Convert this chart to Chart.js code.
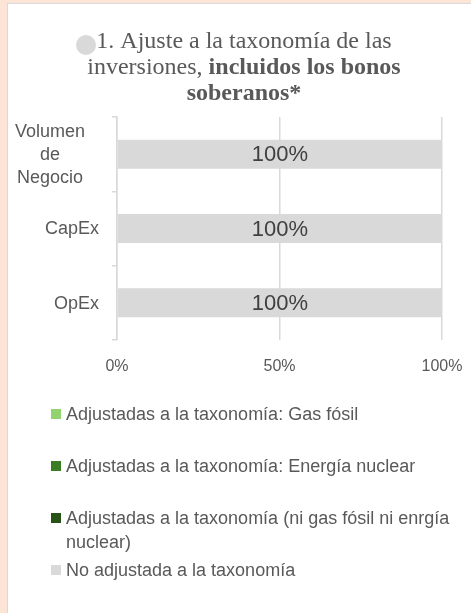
<!DOCTYPE html>
<html><head><meta charset="utf-8">
<script src="https://cdn.jsdelivr.net/npm/chart.js@4"></script>
<style>
html,body{margin:0;padding:0;background:#fce4d6;overflow:hidden;width:471px;height:613px}
#panel{position:absolute;left:7px;top:3px;width:480px;height:640px;background:#fff;border:1px solid #d9d9d9}
canvas{position:absolute;left:0;top:0}
</style></head>
<body><div id="panel"></div><canvas id="c" width="471" height="613"></canvas>
<script>
const categories = [["Volumen","de","Negocio"], "CapEx", "OpEx"];
const gasFosil = [0, 0, 0];
const energiaNuclear = [0, 0, 0];
const alineadasOtras = [0, 0, 0];
const noAlineadas = [100, 100, 100];
const seriesNames = [
  "Adjustadas a la taxonomía: Gas fósil",
  "Adjustadas a la taxonomía: Energía nuclear",
  ["Adjustadas a la taxonomía (ni gas fósil ni enrgía", "nuclear)"],
  "No adjustada a la taxonomía"
];
const seriesColors = ["#92d36f", "#3b7d23", "#275317", "#d9d9d9"];
const xTickValues = [0, 50, 100];

const SANS = '"Liberation Sans", Arial, sans-serif';
const SERIF = '"Liberation Serif", "Times New Roman", serif';
const TXT = '#595959';

const titlePlugin = {
  id: 'customTitle',
  afterDraw(chart) {
    const ctx = chart.ctx;
    ctx.save();
    ctx.fillStyle = '#d9d9d9';
    ctx.beginPath(); ctx.arc(86, 45, 10, 0, Math.PI * 2); ctx.fill();
    const cx = 244;
    const lines = [
      [["1. Ajuste a la taxonomía de las", false]],
      [["inversiones, ", false], ["incluidos los bonos", true]],
      [["soberanos*", true]]
    ];
    const baselines = [48, 74, 100];
    ctx.fillStyle = TXT;
    ctx.textBaseline = 'alphabetic';
    ctx.textAlign = 'left';
    lines.forEach((segs, i) => {
      let total = 0;
      segs.forEach(([t, b]) => { ctx.font = (b ? 'bold ' : '') + '24px ' + SERIF; total += ctx.measureText(t).width; });
      let x = cx - total / 2;
      segs.forEach(([t, b]) => { ctx.font = (b ? 'bold ' : '') + '24px ' + SERIF; ctx.fillText(t, x, baselines[i]); x += ctx.measureText(t).width; });
    });
    // legend
    const legendY = [414, 466, 518, 570];
    ctx.font = '18px ' + SANS;
    ctx.textBaseline = 'middle';
    chart.data.datasets.forEach((ds, i) => {
      ctx.fillStyle = ds.backgroundColor;
      ctx.fillRect(51, legendY[i] - 5, 10, 10);
      ctx.fillStyle = TXT;
      const lbl = Array.isArray(ds.label) ? ds.label : [ds.label];
      lbl.forEach((l, j) => ctx.fillText(l, 66, legendY[i] + 1 + j * 24));
    });
    // y category labels
    const y = chart.scales.y;
    ctx.font = '18px ' + SANS;
    chart.data.labels.forEach((lab, i) => {
      const py = y.getPixelForValue(i);
      if (Array.isArray(lab)) {
        ctx.textAlign = 'center';
        lab.forEach((l, j) => ctx.fillText(l, 50, py + 1 + (j - (lab.length - 1) / 2) * 23));
      } else {
        ctx.textAlign = 'right';
        ctx.fillText(lab, 99, py + 1);
      }
    });
    ctx.restore();
  }
};

const dataLabelPlugin = {
  id: 'barLabels',
  afterDatasetsDraw(chart) {
    const ctx = chart.ctx;
    ctx.save();
    ctx.font = '22px ' + SANS;
    ctx.fillStyle = '#404040';
    ctx.textAlign = 'center';
    ctx.textBaseline = 'middle';
    chart.data.datasets.forEach((ds, di) => {
      const meta = chart.getDatasetMeta(di);
      meta.data.forEach((el, i) => {
        const v = ds.data[i];
        if (!v) return;
        const p = el.getProps(['x', 'y', 'base'], true);
        ctx.fillText(v + '%', (p.x + p.base) / 2, p.y + 1);
      });
    });
    ctx.restore();
  }
};

const seriesData = [gasFosil, energiaNuclear, alineadasOtras, noAlineadas];
new Chart(document.getElementById('c'), {
  type: 'bar',
  data: {
    labels: categories,
    datasets: seriesData.map((d, i) => ({
      label: seriesNames[i],
      data: d,
      backgroundColor: seriesColors[i],
      barPercentage: 0.39,
      categoryPercentage: 1
    }))
  },
  options: {
    indexAxis: 'y',
    responsive: false,
    animation: false,
    layout: { padding: { top: 117, left: 0, right: 29, bottom: 233 } },
    plugins: { legend: { display: false }, title: { display: false }, tooltip: { enabled: false } },
    scales: {
      x: {
        stacked: true, min: 0, max: 100,
        afterFit(s) { s.height = 40; s.paddingLeft = 0; s.paddingRight = 0; },
        afterBuildTicks(s) { s.ticks = xTickValues.map(v => ({ value: v })); },
        ticks: { callback: v => v + '%', color: TXT, font: { family: SANS, size: 16 }, padding: 17 },
        grid: { color: '#d9d9d9', lineWidth: 1.5, drawTicks: false },
        border: { display: false }
      },
      y: {
        stacked: true,
        afterFit(s) { s.width = 117; s.paddingTop = 0; s.paddingBottom = 0; },
        ticks: { display: false },
        grid: { drawOnChartArea: false, drawTicks: true, tickLength: 5, color: '#d9d9d9', lineWidth: 1.5, offset: true },
        border: { display: true, color: '#d9d9d9', width: 1.5 }
      }
    }
  },
  plugins: [dataLabelPlugin, titlePlugin]
});
</script>
</body></html>
